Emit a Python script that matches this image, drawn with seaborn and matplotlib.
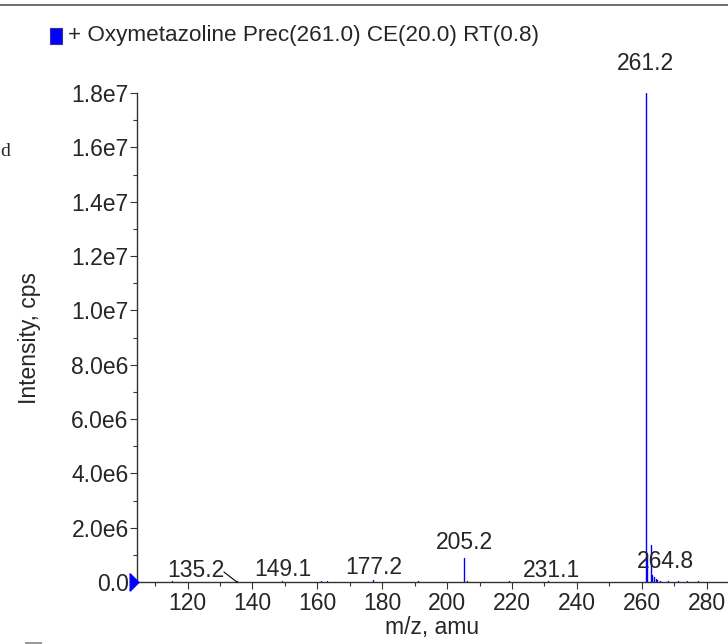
import numpy as np
import pandas as pd
import matplotlib
matplotlib.use("Agg")
import matplotlib.pyplot as plt
import matplotlib.transforms as mtransforms
from matplotlib.patches import Rectangle
import seaborn as sns

# Peak list (m/z, intensity in cps)
mz = [115.1, 135.2, 149.1, 161.1, 163.1, 177.2, 191.1, 205.2, 206.2, 219.1,
      231.1, 261.2, 261.7, 262.8, 263.3, 263.8, 264.3, 264.8, 265.5, 268.2,
      271.1, 274.0, 277.2]
intensity = [0.02e6, 0.03e6, 0.05e6, 0.03e6, 0.03e6, 0.06e6, 0.05e6, 0.90e6, 0.05e6, 0.02e6,
             0.03e6, 1.80e7, 0.95e6, 1.36e6, 0.25e6, 0.18e6, 0.10e6, 0.06e6, 0.04e6, 0.02e6,
             0.02e6, 0.02e6, 0.02e6]

# labelled peaks
label_mz = [135.2, 149.1, 177.2, 205.2, 231.1, 261.2, 264.8]
label_text = ["135.2", "149.1", "177.2", "205.2", "231.1", "261.2", "264.8"]

title = "+ Oxymetazoline Prec(261.0) CE(20.0) RT(0.8)"
y_ticks = np.arange(0, 1.8e7 + 1, 2e6)
y_ticklabels = ["0.0"] + [f"{v/1e6:.1f}e6" for v in y_ticks[1:5]] + [f"{v/1e7:.1f}e7" for v in y_ticks[5:]]
x_ticks = np.arange(120, 281, 20)

sns.set_style("ticks")
plt.rcParams["font.family"] = ["Liberation Sans", "DejaVu Sans"]
FS = 16.5

# long table: two points per peak, one stem each
rows = []
for i, (m, v) in enumerate(zip(mz, intensity)):
    rows.append({"peak": i, "mz": m, "intensity": 0.0})
    rows.append({"peak": i, "mz": m, "intensity": v})
df = pd.DataFrame(rows)

fig = plt.figure(figsize=(7.28, 6.44), dpi=100)
ax = fig.add_axes([137 / 728, 62 / 644, 1 - 137 / 728, (582 - 93) / 644])

sns.lineplot(data=df, x="mz", y="intensity", units="peak", estimator=None,
             color="blue", lw=1.0, ax=ax, legend=False)

ax.set_xlim(104.4, 286.6)
ax.set_ylim(0, 1.8e7)
ax.set_xticks(x_ticks)
ax.set_xticks(np.arange(110, 287, 10), minor=True)
ax.set_yticks(y_ticks)
ax.set_yticks(np.arange(0, 1.8e7 + 1, 1e6), minor=True)
ax.set_yticklabels(y_ticklabels)
ax.tick_params(axis="both", which="major", length=5, width=0.8, labelsize=FS, pad=2, color="#333333")
ax.tick_params(axis="y", which="major", pad=1)
ax.tick_params(axis="both", which="minor", length=3, width=0.8, color="#333333")
for s in ["top", "right"]:
    ax.spines[s].set_visible(False)
for s in ["left", "bottom"]:
    ax.spines[s].set_linewidth(1.0)
    ax.spines[s].set_color("#333333")

ax.set_xlabel("m/z, amu", fontsize=FS, labelpad=1)
ax.set_ylabel("Intensity, cps", fontsize=FS, labelpad=22)

# peak labels, offsets in pixels from the peak top
label_offsets = {"135.2": (-41, -1), "149.1": (1, 0), "177.2": (1, 1), "205.2": (0, 4),
                 "231.1": (4, -1), "261.2": (0, 18), "264.8": (8, 7)}
lookup = dict(zip(mz, intensity))
for m, t in zip(label_mz, label_text):
    dx, dy = label_offsets[t]
    ax.annotate(t, xy=(m, lookup[m]), xytext=(dx, dy), textcoords="offset pixels",
                ha="center", va="bottom", fontsize=FS, annotation_clip=False)
ax.annotate("", xy=(135.2, 0), xytext=(-13, 10), textcoords="offset pixels",
            arrowprops=dict(arrowstyle="-", lw=0.8, color="black", shrinkA=0, shrinkB=0))

# blue marker at the zero line
trans = mtransforms.blended_transform_factory(ax.transAxes, ax.transData)
tri = [(-0.5, -1.0), (0.5, 0.0), (-0.5, 1.0), (-0.5, -1.0)]
ax.plot([-0.0055], [0], marker=tri, markersize=12.5, color="blue", transform=trans,
        clip_on=False, zorder=5)

# title with legend square and window frame line
fig.add_artist(Rectangle((50 / 728, 1 - 44 / 644), 12 / 728, 16 / 644, transform=fig.transFigure,
                         facecolor="blue", edgecolor="#333399", lw=0.8))
fig.text(68 / 728, 1 - 35 / 644, title, fontsize=16.2, va="center", ha="left")
fig.add_artist(plt.Line2D([0, 1], [1 - 5 / 644, 1 - 5 / 644], transform=fig.transFigure,
                          color="#555555", lw=1.2))
fig.text(0.0, 1 - 152 / 644, "d", family="Liberation Serif", fontsize=14, va="center", ha="left")
fig.add_artist(Rectangle((25 / 728, 0), 17 / 728, 2 / 644, transform=fig.transFigure,
                         facecolor="#999999", edgecolor="none"))

fig.savefig("out.png", dpi=100)
